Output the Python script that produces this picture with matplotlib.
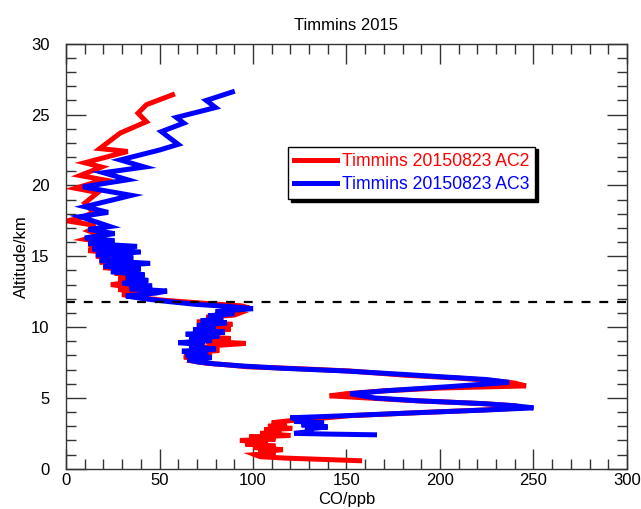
import matplotlib
matplotlib.use("Agg")
import matplotlib.pyplot as plt
from matplotlib.ticker import MultipleLocator

plt.rcParams['font.family'] = ['Liberation Sans', 'DejaVu Sans']

title = "Timmins 2015"
xlabel = "CO/ppb"
ylabel = "Altitude/km"
label_ac2 = "Timmins 20150823 AC2"
label_ac3 = "Timmins 20150823 AC3"
tropopause_km = 11.75

ac2_alt = [0.57, 0.65, 0.75, 0.85, 1.0, 1.1, 1.2, 1.35, 1.5, 1.6, 1.75, 1.85, 2.0, 2.1, 2.25,
           2.35, 2.5, 2.6, 2.75, 2.85, 3.0, 3.1, 3.25, 3.4, 3.55, 3.75, 3.96, 4.15, 4.3, 4.45,
           4.6, 4.8, 5.0, 5.15, 5.3, 5.5, 5.7, 5.85, 6.05, 6.2, 6.4, 6.6, 6.9, 7.1, 7.2,
           7.35, 7.45, 7.6, 7.75, 7.9, 8.05, 8.2, 8.35, 8.5, 8.7, 8.85, 9.0, 9.2, 9.35,
           9.5, 9.7, 9.85, 10.0, 10.2, 10.35, 10.5, 10.7, 10.85, 11.0, 11.2, 11.35, 11.5, 11.7,
           11.9, 12.1, 12.3, 12.5, 12.65, 12.8, 13.0, 13.2, 13.4, 13.6, 13.8, 14.0, 14.2, 14.4,
           14.6, 14.8, 15.0, 15.2, 15.4, 15.6, 15.8, 16.0, 16.2, 16.5, 16.8, 17.0, 17.2, 17.5,
           17.7, 18.1, 18.75, 19.5, 19.8, 20.4, 20.7, 21.3, 21.6, 22.4, 22.6, 23.7, 24.5, 25.1,
           25.7, 26.4]
ac2_co = [157, 140, 118, 104, 101, 112, 103, 116, 100, 112, 96, 108, 93, 112, 98,
          120, 104, 115, 106, 121, 108, 118, 110, 120, 135, 152, 188, 223, 245, 240,
          223, 188, 161, 141, 150, 170, 200, 246, 240, 230, 210, 182, 152, 118, 97,
          85, 75, 68, 70, 63, 78, 66, 82, 70, 80, 96, 75, 88, 68,
          82, 72, 88, 76, 89, 70, 84, 75, 90, 93, 85, 98, 94, 72,
          52, 38, 30, 40, 28, 36, 24, 37, 28, 40, 26, 35, 20, 40,
          18, 30, 16, 28, 12, 24, 12, 20, 10, 18, 12, 15, 14.6, 0.5,
          8, 14.6, 10, 17, 5, 20, 7.5, 19, 10, 33, 18, 29, 43, 38.5,
          43, 57]

ac3_alt = [2.4, 2.45, 2.5, 2.65, 2.8, 2.95, 3.1, 3.25, 3.35, 3.5, 3.6, 3.75, 3.96, 4.15, 4.3,
           4.45, 4.6, 4.8, 5.0, 5.3, 5.5, 5.8, 6.1, 6.3, 6.5, 6.65, 6.9, 7.1, 7.25,
           7.4, 7.55, 7.7, 7.85, 8.0, 8.15, 8.3, 8.45, 8.6, 8.75, 8.9, 9.05, 9.2, 9.35,
           9.5, 9.65, 9.8, 9.95, 10.1, 10.3, 10.45, 10.6, 10.8, 10.95, 11.1, 11.3, 11.45, 11.6,
           11.8, 12.0, 12.2, 12.4, 12.55, 12.7, 12.9, 13.1, 13.3, 13.5, 13.7, 13.9, 14.1, 14.3,
           14.5, 14.7, 14.9, 15.1, 15.3, 15.5, 15.7, 15.9, 16.1, 16.3, 16.6, 16.9, 17.1, 17.8,
           18.1, 18.5, 19.3, 19.9, 20.4, 20.9, 21.3, 21.8, 22.5, 22.9, 23.8, 24.4, 24.8, 25.5,
           26.0, 26.6]
ac3_co = [165, 140, 122, 132, 128, 140, 126, 138, 122, 130, 120, 150, 188, 225, 250,
          240, 223, 188, 165, 152, 170, 205, 237, 225, 200, 182, 150, 115, 95,
          80, 70, 65, 78, 64, 76, 62, 80, 66, 74, 60, 78, 66, 82,
          64, 85, 68, 80, 70, 86, 72, 84, 76, 90, 80, 100, 88, 70,
          55, 42, 32, 48, 54, 34, 46, 30, 44, 32, 42, 24, 40, 20,
          45, 18, 36, 16, 40, 14, 38, 12, 26, 10, 26, 12, 23.5, 7.5,
          22.5, 10, 35, 9, 33, 20, 42, 29, 50, 60, 51, 63, 59, 80,
          75, 89]

fig = plt.figure(figsize=(6.41, 5.09), dpi=100)
ax = fig.add_axes([0.103, 0.079, 0.875, 0.835])

ax.plot(ac2_co, ac2_alt, color='#ff0000', lw=3.6, solid_joinstyle='miter', label=label_ac2)
ax.plot(ac3_co, ac3_alt, color='#0000ff', lw=3.6, solid_joinstyle='miter', label=label_ac3)
ax.axhline(tropopause_km, color='black', lw=1.6, dashes=(4, 4))

ax.set_xlim(0, 300)
ax.set_ylim(0, 30)
ax.xaxis.set_major_locator(MultipleLocator(50))
ax.xaxis.set_minor_locator(MultipleLocator(10))
ax.yaxis.set_major_locator(MultipleLocator(5))
ax.yaxis.set_minor_locator(MultipleLocator(1))
ax.tick_params(which='both', direction='in', top=True, right=True, color='#333333', width=1.0)
ax.tick_params(which='major', length=14.4)
ax.tick_params(which='minor', length=7.2)
ax.tick_params(axis='x', which='major', pad=3, labelsize=12)
ax.tick_params(axis='y', which='major', pad=12, labelsize=12)
for s in ax.spines.values():
    s.set_color('#333333')
    s.set_linewidth(1.0)

ax.set_title(title, fontsize=12, pad=10)
ax.set_xlabel(xlabel, fontsize=12, labelpad=3)
ax.set_ylabel(ylabel, fontsize=12, labelpad=1)

leg = ax.legend(loc='upper left', bbox_to_anchor=(0.396, 0.758), borderaxespad=0,
                fancybox=False, edgecolor='black', framealpha=1, fontsize=12.7,
                labelcolor='linecolor', handlelength=2.4, handletextpad=0.3,
                labelspacing=0.35, borderpad=0.35,
                shadow={'color': 'black', 'alpha': 1.0, 'ox': 2, 'oy': -2})
leg.get_frame().set_linewidth(1.0)

fig.savefig('out.png', dpi=100)
